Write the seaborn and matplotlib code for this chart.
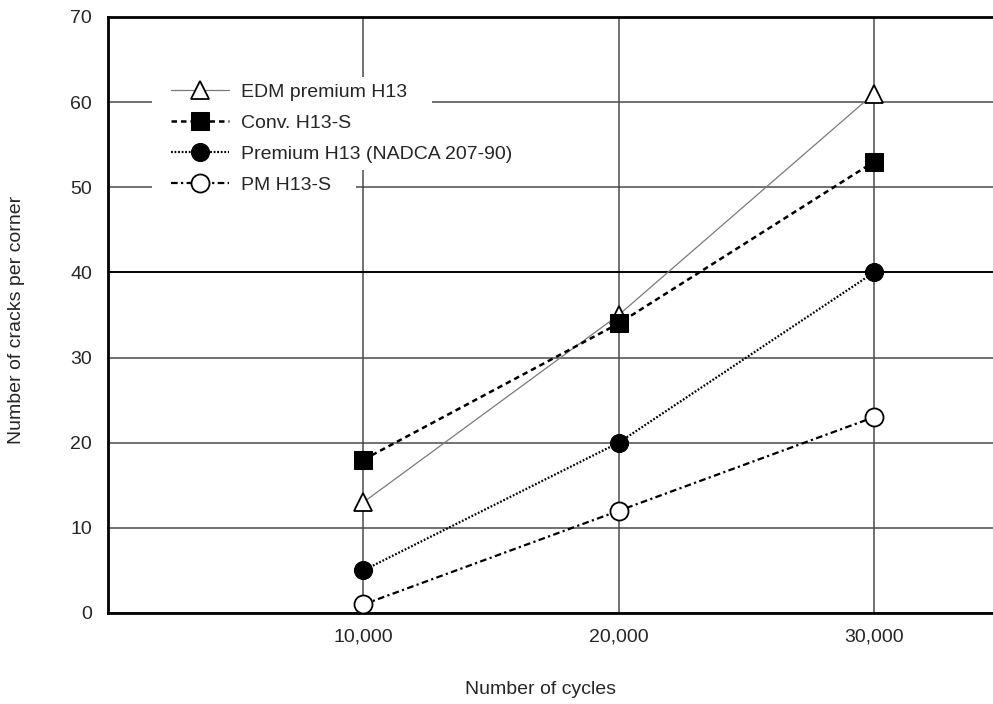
import matplotlib
matplotlib.use("Agg")
import matplotlib.pyplot as plt
from matplotlib.patches import Rectangle
import seaborn as sns
import pandas as pd

cycles = [10000, 20000, 30000]
edm_premium = [13, 35, 61]
conv_h13s = [18, 34, 53]
premium_nadca = [5, 20, 40]
pm_h13s = [1, 12, 23]
labels = ["EDM premium H13", "Conv. H13-S", "Premium H13 (NADCA 207-90)", "PM H13-S"]
xticks = [10000, 20000, 30000]
xtick_labels = ["10,000", "20,000", "30,000"]
yticks = [0, 10, 20, 30, 40, 50, 60, 70]

sns.set_style("white")
plt.rcParams['font.family'] = ['Liberation Sans', 'DejaVu Sans']

fig = plt.figure(figsize=(9.93, 7.04), dpi=100)
ax = fig.add_axes([0.1088, 0.1293, 0.8912, 0.8466])

styles = [
    dict(color="#7a7a7a", linestyle="-", linewidth=0.9, marker="^", markersize=13,
         markerfacecolor="white", markeredgecolor="black", markeredgewidth=1.3),
    dict(color="black", linestyle=(0, (2.2, 1.6)), linewidth=1.8, marker="s", markersize=13,
         markerfacecolor="black", markeredgecolor="black"),
    dict(color="black", linestyle=(0, (0.8, 0.8)), linewidth=1.6, marker="o", markersize=13,
         markerfacecolor="black", markeredgecolor="black"),
    dict(color="black", linestyle=(0, (3, 1.5, 1, 1.5)), linewidth=1.6, marker="o", markersize=13,
         markerfacecolor="white", markeredgecolor="black", markeredgewidth=1.3),
]
series = [edm_premium, conv_h13s, premium_nadca, pm_h13s]
for vals, lab, st in zip(series, labels, styles):
    df = pd.DataFrame({"x": cycles, "y": vals})
    sns.lineplot(data=df, x="x", y="y", ax=ax, label=lab, zorder=3, **st)

ax.set_xlim(0, 34660)
ax.set_ylim(0, 70)
ax.set_xticks(xticks)
ax.set_xticklabels(xtick_labels)
ax.set_yticks(yticks)
ax.tick_params(axis="both", length=0, labelsize=14, pad=11)
ax.tick_params(axis="y", pad=11.5)
ax.grid(True, color="#4a4a4a", linewidth=1.1, zorder=0)
ax.set_axisbelow(True)
ax.get_ygridlines()[4].set_color("black")
ax.get_ygridlines()[4].set_linewidth(1.4)
for s in ["left", "bottom", "top"]:
    ax.spines[s].set_color("black")
    ax.spines[s].set_linewidth(2.0)
ax.spines["right"].set_visible(False)

ax.set_xlabel("Number of cycles", fontsize=14)
ax.set_ylabel("Number of cracks per corner", fontsize=14)
ax.xaxis.set_label_coords((540 - 108) / 885, (613 - 681) / 596)
ax.yaxis.set_label_coords((25 - 108) / 885, (613 - 320) / 596)

leg = ax.legend(loc="upper left", bbox_to_anchor=(0.051, 0.918), fontsize=14,
                handlelength=3.0, labelspacing=0.69, handletextpad=0.6,
                frameon=False, borderpad=0.4)
leg.set_zorder(5)

# white backing behind each legend row (hides grid lines as in the reference)
fig.canvas.draw()
inv = ax.transAxes.inverted()
for t in leg.get_texts():
    bb = t.get_window_extent()
    cy = (bb.y0 + bb.y1) / 2
    x0, y0 = inv.transform((152, cy - 15.5))
    x1, y1 = inv.transform((bb.x1 + 25, cy + 15.5))
    ax.add_patch(Rectangle((x0, y0), x1 - x0, y1 - y0, transform=ax.transAxes,
                           facecolor="white", edgecolor="none", zorder=2))

fig.savefig("out.png", dpi=100, facecolor="white")
